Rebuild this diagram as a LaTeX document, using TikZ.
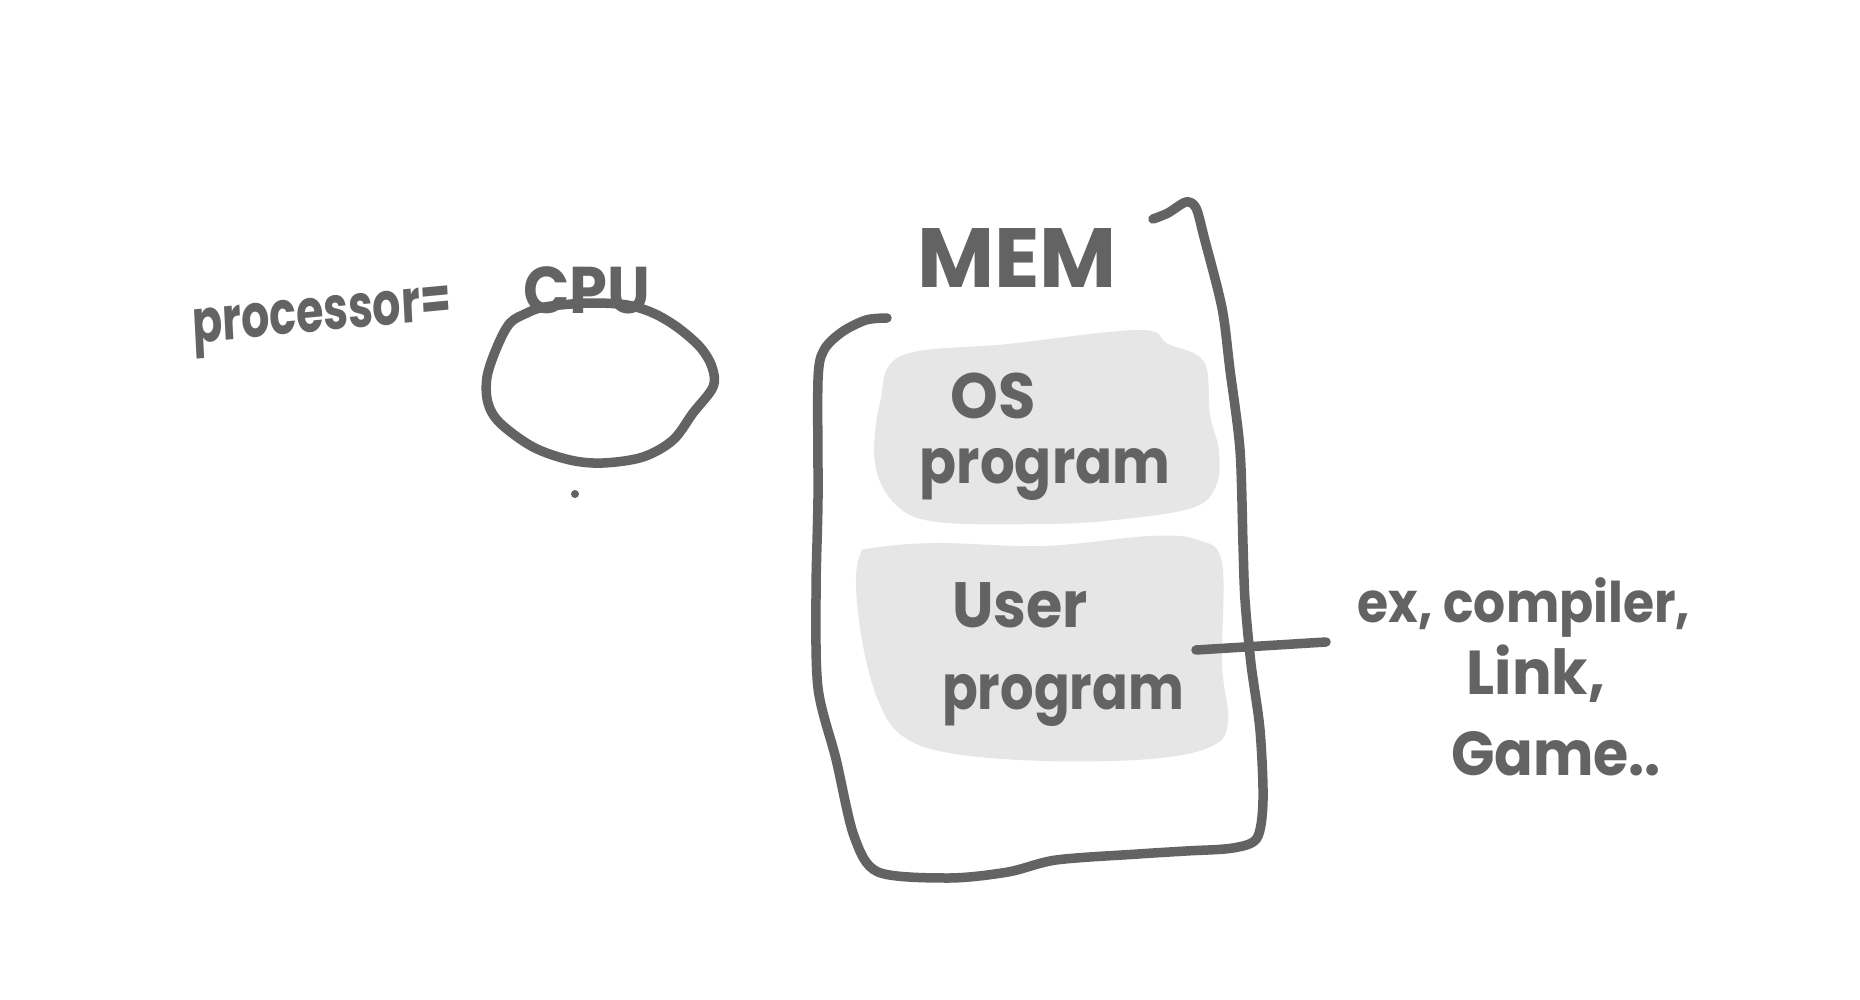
\documentclass[tikz,border=0pt]{standalone}
\usepackage{fontspec}
\newfontfamily\hand{Poppins}
\definecolor{ink}{HTML}{636363}
\definecolor{blob}{HTML}{E6E6E6}
\tikzset{
  pen/.style={draw=ink, line width=9.5pt, line cap=round, line join=round},
  blobfill/.style={fill=blob, draw=none},
  txt/.style={text=ink, font=\hand\bfseries\fontsize{#1}{#1}\selectfont, inner sep=0pt},
  txt/.default=58
}
\begin{document}
\begin{tikzpicture}[x=1pt,y=-1pt]
\useasboundingbox[fill=white] (0,0) rectangle (1860,1000);

% CPU
\draw[pen] plot[smooth cycle, tension=0.55] coordinates {
  (527,313) (510,323) (497,347) (487,377) (488,403) (500,423) (533,447)
  (570,460) (603,463) (643,457) (673,440) (693,413) (713,387) (712,367)
  (700,347) (677,327) (653,313) (627,305) (593,303) (560,305) (540,308)};
\fill[ink] (575,494) circle (4);
\node[txt=60, xscale=0.74, rotate=4] (proc) at (322,322) {processor=};
\node[txt=66, xscale=0.92] (cpu) at (587,290) {CPU};

% memory box
\draw[pen] plot[smooth, tension=0.5] coordinates {
  (887,318) (866,320) (842,332) (824,350) (818,380) (818,498) (816,593)
  (818,688) (836,759) (854,836) (878,872) (949,878) (1008,872) (1056,860)
  (1138,854) (1186,851) (1233,848) (1257,838) (1263,800) (1260,730)
  (1251,664) (1245,600) (1243,545) (1240,450) (1230,370) (1222,308)
  (1204,237) (1196,208) (1186,202) (1168,213) (1153,219)};
\node[txt=84, xscale=1.0] (mem) at (1017,258) {MEM};

% OS program blob
\fill[blobfill] plot[smooth cycle, tension=0.6] coordinates {
  (901,356) (1008,344) (1139,330) (1168,344) (1204,362) (1210,415) (1219,451)
  (1216,486) (1192,508) (1115,520) (1044,524) (937,522) (895,504) (875,463)
  (880,403)};
\node[txt=64, xscale=0.95] (os) at (993,396) {OS};
\node[txt=62, xscale=0.88] (osprog) at (1045,474) {program};

% User program blob
\fill[blobfill] plot[smooth cycle, tension=0.6] coordinates {
  (872,548) (937,543) (1044,546) (1150,536) (1198,540) (1222,563) (1222,664)
  (1228,723) (1210,747) (1150,759) (1044,761) (949,753) (901,735) (878,700)
  (863,646) (856,587) (860,555)};
\node[txt=64, xscale=0.92] (user) at (1020,605) {User};
\node[txt=62, xscale=0.85] (userprog) at (1063,700) {program};

% examples
\node[txt=56, xscale=0.9] (ex) at (1524,608) {ex, compiler,};
\node[txt=62, xscale=0.95] (link) at (1536,674) {Link,};
\node[txt=62, xscale=0.92] (game) at (1556,754) {Game..};

\coordinate (ustart) at (1196,650);
\coordinate (exend) at (1326,642);
\draw[pen] (ustart) -- (exend);
\end{tikzpicture}
\end{document}
